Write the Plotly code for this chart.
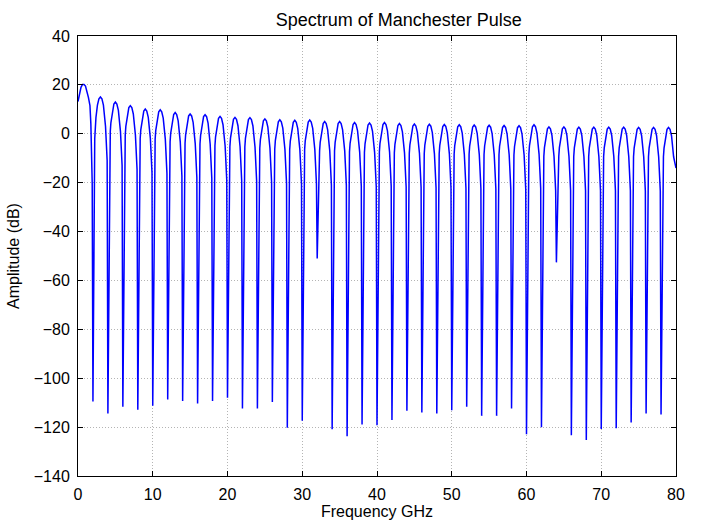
import plotly.graph_objects as go

# ---- data ----
# peak level (dB) of each 2-GHz lobe, lobe k spans [2(k-1), 2k] GHz
lobe_peaks = [20.3, 15.1, 13.0, 11.5, 10.1, 9.8, 8.7, 8.1, 7.8, 7.1,
              6.7, 6.6, 6.1, 5.7, 5.5, 5.6, 5.0, 5.0, 4.6, 4.4,
              4.6, 4.2, 4.0, 3.9, 3.8, 3.7, 3.6, 3.5, 3.4, 3.3,
              3.7, 2.8, 2.8, 2.7, 2.7, 2.7, 2.7, 2.6, 2.6, 2.6]
# depth (dB) reached at each null, f = 2, 4, ..., 80 GHz (last one is the curve end)
null_freqs = list(range(2, 82, 2))
null_depths = [-109.5, -114.4, -111.7, -112.9, -111.3, -108.7, -109.3, -110.3, -109.3, -108.0,
               -112.4, -112.4, -109.7, -120.3, -117.4, -51.0, -120.9, -123.7, -118.9, -119.2,
               -117.1, -113.3, -114.0, -114.4, -113.1, -111.7, -115.4, -115.4, -112.4, -122.9,
               -120.1, -52.6, -123.3, -125.3, -120.8, -120.5, -118.1, -114.4, -114.8, -14.0]
# first lobe (starts at DC, not at a null)
first_lobe_f = [0.0, 0.2, 0.4, 0.6, 0.8, 1.0, 1.2, 1.4, 1.6, 1.72, 1.9]
first_lobe_db = [13.2, 16.5, 19.0, 20.2, 20.2, 19.5, 17.5, 14.8, 11.5, 4.0, -20.0]
# lobe shape: position inside lobe (0..1) and level relative to the lobe peak (dB)
lobe_pos = [0.12, 0.16, 0.2, 0.3, 0.4, 0.5, 0.6, 0.7, 0.8, 0.84, 0.88, 0.95]
lobe_rel_db = [-17.0, -12.0, -8.5, -3.4, -0.8, 0.0, -0.8, -3.4, -8.5, -12.0, -17.0, -26.0]

x_ticks = [0, 10, 20, 30, 40, 50, 60, 70, 80]
y_ticks = [40, 20, 0, -20, -40, -60, -80, -100, -120, -140]

# ---- assemble the curve ----
freq = list(first_lobe_f)
amp = list(first_lobe_db)
freq.append(null_freqs[0])
amp.append(null_depths[0])
last = len(lobe_peaks) - 1
for k in range(1, len(lobe_peaks)):
    start = null_freqs[k - 1]
    for u, rel in zip(lobe_pos, lobe_rel_db):
        if k == last and u > 0.85:
            continue  # curve stops just before the final null
        freq.append(start + 2 * u)
        amp.append(lobe_peaks[k] + rel)
    freq.append(null_freqs[k])
    amp.append(null_depths[k])

fig = go.Figure()
fig.add_trace(go.Scatter(x=freq, y=amp, mode="lines",
                         line=dict(color="#0000ff", width=1.5),
                         showlegend=False, hoverinfo="skip"))

font = dict(family="Liberation Sans, Arial, sans-serif", size=16, color="black")
title_font = dict(family="Liberation Sans, Arial, sans-serif", size=18, color="black")
axis_common = dict(
    showgrid=True, gridcolor="#b4b4b4", griddash="1px,2px", gridwidth=1,
    showline=True, linecolor="black", linewidth=1, mirror="ticks",
    ticks="inside", ticklen=5, tickcolor="black", tickwidth=1,
    zeroline=False, tickfont=font, automargin=False,
)
fig.update_xaxes(range=[0, 80], tickvals=x_ticks, ticklabelstandoff=4,
                 title=dict(text="Frequency GHz", font=font, standoff=2),
                 **axis_common)
fig.update_yaxes(range=[-140, 40], tickvals=y_ticks, ticklabelstandoff=4,
                 title=dict(text="Amplitude (dB)", font=font, standoff=10),
                 **axis_common)
fig.update_layout(
    width=703, height=525,
    margin=dict(l=78, r=27, t=36, b=49),
    paper_bgcolor="white", plot_bgcolor="white",
    font=font,
    title=dict(text="Spectrum of Manchester Pulse", font=title_font,
               x=0.5365, xanchor="center", xref="paper",
               y=1 - 20 / 525, yref="container", yanchor="middle"),
)
fig.write_html("out.html")
